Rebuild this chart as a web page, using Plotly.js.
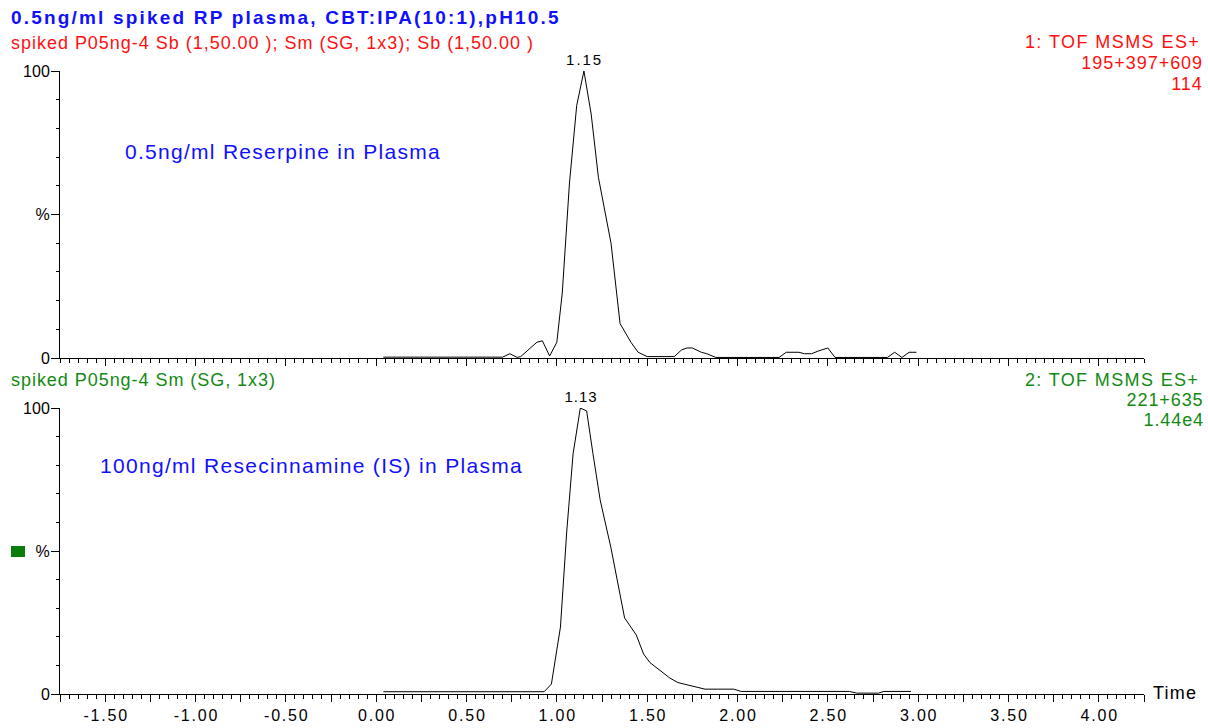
<!DOCTYPE html>
<html>
<head>
<meta charset="utf-8">
<script src="https://cdn.plot.ly/plotly-3.0.1.min.js"></script>
<style>
  html, body { margin: 0; padding: 0; background: #ffffff; }
  #chart { width: 1208px; height: 728px; }
</style>
</head>
<body>
<div id="chart"></div>
<script>
// Channel 1: reserpine (195+397+609), relative intensity in %
const reserpineTime = [0.04, 0.70, 0.74, 0.78, 0.80, 0.86, 0.89, 0.92, 0.96, 1.00, 1.03, 1.07, 1.11, 1.15, 1.19, 1.23, 1.30, 1.35, 1.41, 1.45, 1.50, 1.65, 1.69, 1.72, 1.75, 1.80, 1.83, 1.88, 2.23, 2.27, 2.34, 2.37, 2.41, 2.45, 2.50, 2.54, 2.83, 2.87, 2.91, 2.95, 2.99];
const reserpinePct  = [0.3, 0.3, 1.5, 0.2, 0.5, 4.0, 5.5, 6.0, 0.7, 5.5, 22.6, 61, 88, 100, 85, 63, 40, 12, 5.5, 2.0, 0.5, 0.5, 2.8, 3.5, 3.5, 2.0, 1.5, 0.2, 0.2, 2.0, 2.0, 1.5, 1.5, 2.5, 3.5, 0.2, 0.2, 2.0, 0.2, 2.0, 2.0];

// Channel 2: rescinnamine internal standard (221+635), relative intensity in %
const isTime = [0.04, 0.93, 0.97, 1.02, 1.055, 1.09, 1.13, 1.165, 1.20, 1.24, 1.30, 1.375, 1.44, 1.48, 1.515, 1.585, 1.625, 1.67, 1.745, 1.82, 1.98, 2.02, 2.62, 2.66, 2.78, 2.81, 2.96];
const isPct  = [0.8, 0.8, 3.5, 23.4, 57, 84, 100, 99, 84, 67.8, 51, 26.6, 20.6, 14, 11, 7.5, 5.6, 4.0, 2.8, 1.7, 1.7, 0.9, 0.9, 0.3, 0.3, 0.9, 0.9];

// Peak apex labels
const peakTop = { time: 1.15, pct: 100, label: '1.15' };
const peakBottom = { time: 1.13, pct: 100, label: '1.13' };

// Time axis ticks (long ticks every 0.25, labels every 0.50)
const xTickVals = [-1.75, -1.50, -1.25, -1.00, -0.75, -0.50, -0.25, 0.00, 0.25, 0.50, 0.75, 1.00, 1.25, 1.50, 1.75, 2.00, 2.25, 2.50, 2.75, 3.00, 3.25, 3.50, 3.75, 4.00, 4.25];
const xTickText = ['', '-1.50', '', '-1.00', '', '-0.50', '', '0.00', '', '0.50', '', '1.00', '', '1.50', '', '2.00', '', '2.50', '', '3.00', '', '3.50', '', '4.00', ''];
const yTickVals = [0, 50, 100];
const yTickText = ['0', '%', '100'];

const FONT = '"Liberation Sans", Arial, sans-serif';
const BLUE = '#1010ff';
const RED = '#ff1010';
const GREEN = '#128a12';

const traces = [
  { x: reserpineTime, y: reserpinePct, xaxis: 'x', yaxis: 'y', type: 'scatter', mode: 'lines',
    line: { color: '#000000', width: 1 }, hoverinfo: 'skip' },
  { x: isTime, y: isPct, xaxis: 'x2', yaxis: 'y2', type: 'scatter', mode: 'lines',
    line: { color: '#000000', width: 1 }, hoverinfo: 'skip' }
];

const xCommon = {
  range: [-1.75, 4.25],
  tickmode: 'array', tickvals: xTickVals, ticktext: xTickText,
  ticks: 'outside', ticklen: 7, tickwidth: 1, tickcolor: '#000',
  minor: { dtick: 0.05, tick0: 0, ticks: 'outside', ticklen: 4, tickwidth: 1, tickcolor: '#000' },
  showline: true, linecolor: '#000', linewidth: 1,
  showgrid: false, zeroline: false, fixedrange: true,
  tickfont: { family: FONT, size: 16, color: '#000' }
};

const yCommon = {
  range: [0, 100],
  tickmode: 'array', tickvals: yTickVals, ticktext: yTickText,
  ticks: 'outside', ticklen: 8, tickwidth: 1, tickcolor: '#000',
  minor: { dtick: 10, tick0: 0, ticks: 'outside', ticklen: 3, tickwidth: 1, tickcolor: '#000' },
  showline: true, linecolor: '#000', linewidth: 1,
  showgrid: false, zeroline: false, fixedrange: true,
  tickfont: { family: FONT, size: 16, color: '#000' },
  ticklabelstandoff: -2
};

// Each text carries the width (px) its letters are tracked out to after rendering
function ann(text, x, y, width, opts) {
  return Object.assign({ text: text, x: x, y: y, xref: 'paper', yref: 'paper',
    showarrow: false, xanchor: 'left', yanchor: 'middle', _width: width }, opts || {});
}

const annotations = [
  ann('<b>0.5ng/ml spiked RP plasma, CBT:IPA(10:1),pH10.5</b>', -0.0473, 1.0857, 548,
    { font: { family: FONT, size: 19, color: BLUE } }),
  ann('spiked P05ng-4 Sb (1,50.00 ); Sm (SG, 1x3); Sb (1,50.00 )', -0.0473, 1.0449, 522,
    { font: { family: FONT, size: 18, color: RED } }),
  ann('1: TOF MSMS ES+', 1.0526, 1.0470, 174, { xanchor: 'right', font: { family: FONT, size: 18, color: RED } }),
  ann('195+397+609', 1.0554, 1.0133, 121, { xanchor: 'right', font: { family: FONT, size: 18, color: RED } }),
  ann('114', 1.0554, 0.9794, 30.5, { xanchor: 'right', font: { family: FONT, size: 18, color: RED } }),
  ann('spiked P05ng-4 Sm (SG, 1x3)', -0.0473, 0.504, 264,
    { font: { family: FONT, size: 18, color: GREEN } }),
  ann('2: TOF MSMS ES+', 1.0517, 0.5040, 173, { xanchor: 'right', font: { family: FONT, size: 18, color: GREEN } }),
  ann('221+635', 1.0563, 0.4714, 76, { xanchor: 'right', font: { family: FONT, size: 18, color: GREEN } }),
  ann('1.44e4', 1.0563, 0.4392, 59.5, { xanchor: 'right', font: { family: FONT, size: 18, color: GREEN } }),
  ann('0.5ng/ml Reserpine in Plasma', 0.0581, 0.870, 315,
    { font: { family: FONT, size: 21, color: BLUE } }),
  ann('100ng/ml Resecinnamine (IS) in Plasma', 0.0351, 0.366, 422,
    { font: { family: FONT, size: 21, color: BLUE } }),
  ann('Time', 1.0065, 0.0016, 43, { font: { family: FONT, size: 18, color: '#000' } }),
  { text: peakTop.label, x: peakTop.time, y: peakTop.pct, xref: 'x', yref: 'y',
    showarrow: false, xanchor: 'center', yanchor: 'bottom', yshift: 1, _width: 35,
    font: { family: FONT, size: 15, color: '#000' } },
  { text: peakBottom.label, x: peakBottom.time, y: peakBottom.pct, xref: 'x2', yref: 'y2',
    showarrow: false, xanchor: 'center', yanchor: 'bottom', yshift: 1, _width: 32,
    font: { family: FONT, size: 15, color: '#000' } }
];

const widthByIndex = annotations.map(a => a._width || 0);
const anchorByIndex = annotations.map(a => a.xanchor);
annotations.forEach(a => { delete a._width; });

const layout = {
  width: 1208, height: 728,
  margin: { l: 60, r: 64, t: 71, b: 34 },
  paper_bgcolor: '#ffffff', plot_bgcolor: '#ffffff',
  showlegend: false,
  xaxis: Object.assign({}, xCommon, { anchor: 'y', showticklabels: false }),
  yaxis: Object.assign({}, yCommon, { domain: [0.5393, 1], anchor: 'x' }),
  xaxis2: Object.assign({}, xCommon, { anchor: 'y2' }),
  yaxis2: Object.assign({}, yCommon, { domain: [0, 0.459], anchor: 'x2' }),
  annotations: annotations,
  shapes: [
    { type: 'rect', xref: 'paper', yref: 'paper', x0: -0.0452, x1: -0.0323, y0: 0.2199, y1: 0.2376,
      fillcolor: '#0a7d0a', line: { width: 0 } }
  ]
};

// Track a text element's letters apart by `spacing` px, keeping the given edge fixed
function track(t, spacing, anchor) {
  const r0 = t.getBoundingClientRect();
  t.style.letterSpacing = spacing + 'px';
  const r1 = t.getBoundingClientRect();
  let dx;
  if (anchor === 'right') dx = r0.right - (r1.right - spacing);
  else if (anchor === 'center') dx = (r0.left + r0.right) / 2 - (r1.left + r1.right - spacing) / 2;
  else dx = r0.left - r1.left;
  const prev = t.getAttribute('transform') || '';
  t.setAttribute('transform', prev + ' translate(' + dx.toFixed(2) + ',0)');
}

function fitWidth(t, width, anchor) {
  const n = t.textContent.length;
  const w0 = t.getBoundingClientRect().width;
  if (n < 2) return;
  track(t, (width - w0) / (n - 1), anchor);
}

function applyTracking(gd) {
  gd.querySelectorAll('g.annotation').forEach(g => {
    const idx = +g.getAttribute('data-index');
    const w = widthByIndex[idx];
    const t = g.querySelector('text.annotation-text');
    if (!w || !t) return;
    fitWidth(t, w, anchorByIndex[idx]);
  });
  // time axis labels are set slightly apart as well
  gd.querySelectorAll('g.x2tick text').forEach(t => {
    if (t.textContent) track(t, 1.8, 'center');
  });
}

const gd = document.getElementById('chart');
Plotly.newPlot(gd, traces, layout, { staticPlot: true, displayModeBar: false })
  .then(() => applyTracking(gd));
</script>
</body>
</html>
